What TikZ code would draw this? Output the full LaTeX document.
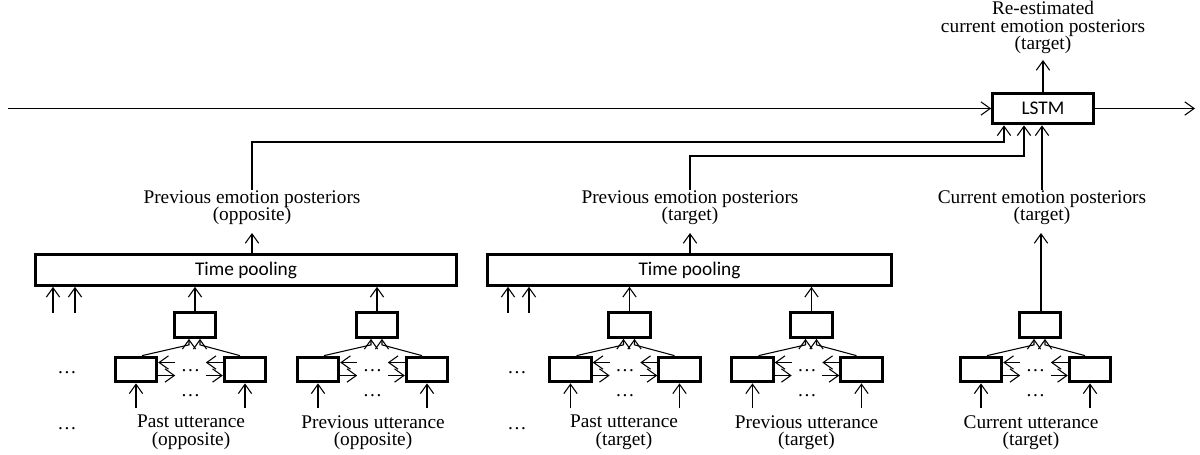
\documentclass[tikz,border=0pt]{standalone}
\usepackage{fontspec}
\setmainfont{Liberation Serif}
\newfontfamily\calfont{Carlito}
\usetikzlibrary{arrows.meta,calc}
\tikzset{
  ln/.style={line width=0.8pt},
  arr/.style={ln,-{Straight Barb[length=7pt,width=10pt,line width=0.8pt]}},
  sbox/.style={draw,line width=2.3pt,minimum width=31pt,minimum height=18.5pt,inner sep=0pt},
  bigbox/.style={draw,line width=2.3pt,minimum height=23pt,inner sep=0pt,font=\calfont\fontsize{14.5}{16}\selectfont},
  lbl/.style={align=center,inner sep=0pt,font=\fontsize{14.5}{13.2}\selectfont},
  dts/.style={inner sep=0pt,font=\fontsize{14.5}{13.2}\selectfont},
}
\newcommand\utree[2]{%
  \node[sbox] (#1t) at (#2,325) {};
  \node[sbox] (#1l) at (#2-59,369.5) {};
  \node[sbox] (#1r) at (#2+50,369.5) {};
  \draw[arr] ($(#1l.north)+(6,0)$) -- ($(#1t.south)+(-6,6)$) -- ($(#1t.south)+(-6,0)$);
  \draw[arr] ($(#1r.north)+(-5,0)$) -- ($(#1t.south)+(5,6)$) -- ($(#1t.south)+(5,0)$);
  \draw[arr] ($(#1l.east)+(17,-7)$) -- ($(#1l.east)+(0,-7)$);
  \draw[arr] ($(#1l.east)+(0,6)$) -- ($(#1l.east)+(17,6)$);
  \draw[arr] ($(#1r.west)+(0,-7)$) -- ($(#1r.west)+(-17,-7)$);
  \draw[arr] ($(#1r.west)+(-17,6)$) -- ($(#1r.west)+(0,6)$);
  \node[dts] (#1da) at (#2-4.5,371) {…};
  \node[dts] (#1db) at (#2-4.5,396) {…};
  \draw[arr] ($(#1l.south)+(0,25)$) -- (#1l.south);
  \draw[arr] ($(#1r.south)+(0,25)$) -- (#1r.south);
}
\begin{document}
\begin{tikzpicture}[x=0.75pt,y=-0.75pt]
\useasboundingbox (0,0) rectangle (1200,454);
% LSTM
\node[bigbox,minimum width=75.5pt] (lstm) at (1043,108.5) {LSTM};
\coordinate (in) at (8,108.5);
\coordinate (out) at (1195,108.5);
\draw[arr] (in) -- (lstm.west);
\draw[arr] (lstm.east) -- (out);
\node[lbl] (re) at (1043,27.5) {Re-estimated\\current emotion posteriors\\(target)};
\coordinate (retip) at (1043,60);
\draw[arr] (lstm.north) -- (retip);
% time pooling boxes
\node[bigbox,minimum width=315.75pt] (tp1) at (246,270) {Time pooling};
\node[bigbox,minimum width=303pt] (tp2) at (689.5,270) {Time pooling};
% posterior labels
\node[lbl] (pe1) at (252,207.5) {Previous emotion posteriors\\(opposite)};
\node[lbl] (pe2) at (690,207.5) {Previous emotion posteriors\\(target)};
\node[lbl] (ce) at (1042,207.5) {Current emotion posteriors\\(target)};
\coordinate (t1) at (252,233);
\coordinate (t2) at (690,233);
\coordinate (t3) at (1041,233);
\draw[arr] (tp1.north -| t1) -- (t1);
\draw[arr] (tp2.north -| t2) -- (t2);
\coordinate (k1) at (1004,142);
\coordinate (k2) at (1024,156);
\draw[arr] (pe1.north) |- (k1) -- (k1 |- lstm.south);
\draw[arr] (pe2.north) |- (k2) -- (k2 |- lstm.south);
\draw[arr] (ce.north) -- (ce.north |- lstm.south);
% trees
\utree{a}{195}
\utree{b}{377}
\utree{c}{629.5}
\utree{d}{811.5}
\utree{e}{1040}
\draw[arr] (at.north) -- (at.north |- tp1.south);
\draw[arr] (bt.north) -- (bt.north |- tp1.south);
\draw[arr] (ct.north) -- (ct.north |- tp2.south);
\draw[arr] (dt.north) -- (dt.north |- tp2.south);
\draw[arr] (et.north -| t3) -- (t3);
% small arrows under pooling
\coordinate (s1) at (53,313);
\coordinate (s2) at (75,313);
\coordinate (s3) at (508,313);
\coordinate (s4) at (529,313);
\foreach \s/\t in {s1/tp1,s2/tp1,s3/tp2,s4/tp2} \draw[arr] (\s) -- (\s |- \t.south);
% left dots
\node[dts] (la1) at (67,373) {…};
\node[dts] (la2) at (67,429) {…};
\node[dts] (lc1) at (517,373) {…};
\node[dts] (lc2) at (517,429) {…};
% utterance labels
\node[lbl] (ua) at (191,432.5) {Past utterance\\(opposite)};
\node[lbl] (ub) at (373,432.5) {Previous utterance\\(opposite)};
\node[lbl] (uc) at (624,432.5) {Past utterance\\(target)};
\node[lbl] (ud) at (806.5,432.5) {Previous utterance\\(target)};
\node[lbl] (ue) at (1031,432.5) {Current utterance\\(target)};
\end{tikzpicture}
\end{document}
